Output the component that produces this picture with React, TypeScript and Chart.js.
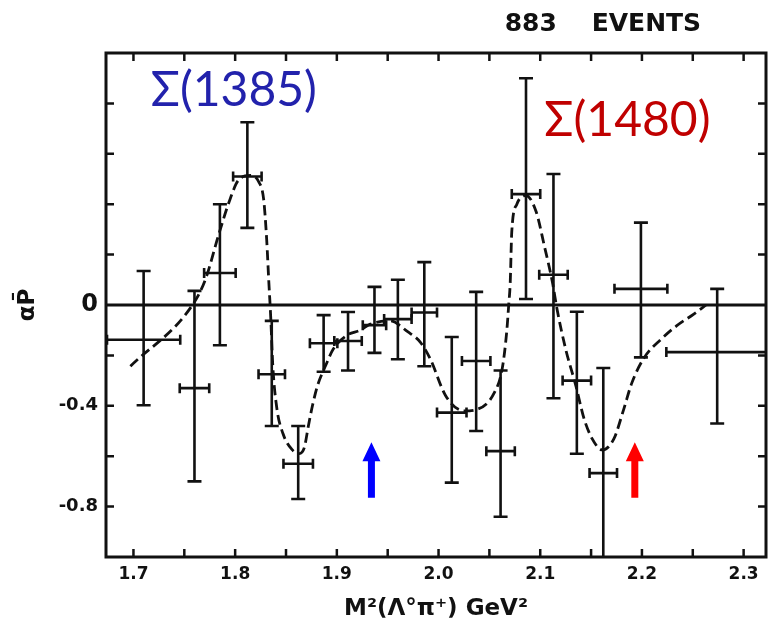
import React, { useEffect, useRef } from 'react';
import { Chart, registerables } from 'chart.js';

Chart.register(...registerables);

// Measured points: M^2(Λπ+) in GeV^2, asymmetry αP̄
const massSq = [1.71, 1.76, 1.785, 1.812, 1.836, 1.862, 1.887, 1.911, 1.937, 1.96, 1.986, 2.013, 2.037, 2.061, 2.086, 2.113, 2.136, 2.162, 2.199, 2.274];
const asym = [-0.138, -0.33, 0.127, 0.51, -0.275, -0.63, -0.152, -0.143, -0.08, -0.056, -0.03, -0.427, -0.222, -0.58, 0.44, 0.12, -0.3, -0.667, 0.064, -0.187];
const asymErrUp = [0.273, 0.386, 0.273, 0.215, 0.212, 0.15, 0.112, 0.115, 0.152, 0.156, 0.2, 0.3, 0.274, 0.32, 0.46, 0.4, 0.273, 0.417, 0.263, 0.251];
const asymErrDown = [0.26, 0.37, 0.287, 0.204, 0.205, 0.14, 0.113, 0.117, 0.11, 0.159, 0.213, 0.278, 0.278, 0.26, 0.416, 0.49, 0.29, 0.45, 0.272, 0.283];
const massErr = [0.036, 0.0145, 0.0155, 0.014, 0.013, 0.0145, 0.0135, 0.0135, 0.0115, 0.0135, 0.0125, 0.0145, 0.014, 0.014, 0.014, 0.014, 0.014, 0.0135, 0.026, 0.05];

// Dashed fit curve
const curveX = [1.697, 1.758, 1.771, 1.7835, 1.795, 1.803, 1.815, 1.823, 1.828, 1.831, 1.833, 1.835, 1.837, 1.841, 1.847, 1.856, 1.863, 1.868, 1.872, 1.876, 1.881, 1.889, 1.8965, 1.91, 1.923, 1.933, 1.952, 1.97, 1.982, 1.992, 2.007, 2.025, 2.038, 2.055, 2.0625, 2.067, 2.069, 2.0705, 2.072, 2.077, 2.086, 2.096, 2.104, 2.112, 2.1165, 2.125, 2.135, 2.143, 2.151, 2.161, 2.1725, 2.182, 2.19, 2.202, 2.219, 2.234, 2.251, 2.263];
const curveY = [-0.243, 0.0, 0.104, 0.275, 0.42, 0.494, 0.514, 0.49, 0.42, 0.26, 0.1, -0.05, -0.24, -0.41, -0.51, -0.574, -0.59, -0.566, -0.48, -0.4, -0.32, -0.24, -0.175, -0.12, -0.1, -0.076, -0.063, -0.107, -0.147, -0.215, -0.36, -0.42, -0.414, -0.347, -0.255, -0.108, 0.0, 0.09, 0.29, 0.4, 0.434, 0.37, 0.235, 0.09, -0.016, -0.175, -0.32, -0.45, -0.53, -0.575, -0.53, -0.415, -0.31, -0.21, -0.135, -0.083, -0.036, 0.0];

// Axes
const xMin = 1.673;
const xMax = 2.322;
const yMin = -1.0;
const yMax = 1.0;
const xLabelValues = [1.7, 1.8, 1.9, 2.0, 2.1, 2.2, 2.3];
const xTickMarks = [1.7, 1.75, 1.8, 1.85, 1.9, 1.95, 2.0, 2.05, 2.1, 2.15, 2.2, 2.25, 2.3];
const yTickMarks = [-0.8, -0.6, -0.4, -0.2, 0.2, 0.4, 0.6, 0.8];
const yLabelValues = [0, -0.4, -0.8];
const yLabelTexts = ['0', '-0.4', '-0.8'];
const xTitle = 'M\u00B2(\u039B\u00B0\u03C0\u207A) GeV\u00B2';
const yTitle = '\u03B1P\u0304';
const headerText = '883    EVENTS';
const headerX = 2.065;

// Annotations
const resonanceLabels = ['\u03A3(1385)', '\u03A3(1480)'];
const resonanceLabelX = [1.717, 2.104];
const resonanceLabelY = [0.79, 0.67];
const resonanceColors = ['#2222AC', '#C00000'];
const arrowX = [1.934, 2.193];
const arrowColors = ['#0000FF', '#FF0000'];
const arrowTipY = -0.545;
const arrowBaseY = -0.765;

const INK = '#111111';

const zeroLinePlugin = {
  id: 'zeroLine',
  beforeDatasetsDraw(chart: any) {
    const { ctx, chartArea: a, scales } = chart;
    const y0 = scales.y.getPixelForValue(0);
    ctx.save();
    ctx.strokeStyle = INK;
    ctx.lineWidth = 3;
    ctx.beginPath();
    ctx.moveTo(a.left, y0);
    ctx.lineTo(a.right, y0);
    ctx.stroke();
    ctx.restore();
  },
};

const errorBarPlugin = {
  id: 'errorBars',
  afterDatasetsDraw(chart: any) {
    const { ctx, chartArea: a, scales } = chart;
    const x = scales.x;
    const y = scales.y;
    const capV = 7;
    const capH = 5;
    ctx.save();
    ctx.beginPath();
    ctx.rect(a.left, a.top, a.right - a.left, a.bottom - a.top);
    ctx.clip();
    ctx.strokeStyle = INK;
    ctx.lineWidth = 2.6;
    massSq.forEach((m, i) => {
      const px = x.getPixelForValue(m);
      const py = y.getPixelForValue(asym[i]);
      const yTop = y.getPixelForValue(asym[i] + asymErrUp[i]);
      const yBot = y.getPixelForValue(asym[i] - asymErrDown[i]);
      const xL = x.getPixelForValue(m - massErr[i]);
      const xR = x.getPixelForValue(m + massErr[i]);
      ctx.beginPath();
      ctx.moveTo(px, yTop);
      ctx.lineTo(px, yBot);
      ctx.moveTo(px - capV, yTop);
      ctx.lineTo(px + capV, yTop);
      ctx.moveTo(px - capV, yBot);
      ctx.lineTo(px + capV, yBot);
      ctx.moveTo(xL, py);
      ctx.lineTo(xR, py);
      ctx.moveTo(xL, py - capH);
      ctx.lineTo(xL, py + capH);
      ctx.moveTo(xR, py - capH);
      ctx.lineTo(xR, py + capH);
      ctx.stroke();
    });
    ctx.restore();
  },
};

const framePlugin = {
  id: 'frame',
  afterDraw(chart: any) {
    const { ctx, chartArea: a, scales } = chart;
    const x = scales.x;
    const y = scales.y;
    const tl = 8;
    ctx.save();
    ctx.strokeStyle = INK;
    ctx.lineWidth = 3;
    ctx.strokeRect(a.left, a.top, a.right - a.left, a.bottom - a.top);
    ctx.lineWidth = 2.5;
    ctx.beginPath();
    xTickMarks.forEach((v) => {
      const px = x.getPixelForValue(v);
      ctx.moveTo(px, a.bottom);
      ctx.lineTo(px, a.bottom - tl);
      ctx.moveTo(px, a.top);
      ctx.lineTo(px, a.top + tl);
    });
    yTickMarks.forEach((v) => {
      const py = y.getPixelForValue(v);
      ctx.moveTo(a.left, py);
      ctx.lineTo(a.left + tl, py);
      ctx.moveTo(a.right, py);
      ctx.lineTo(a.right - tl, py);
    });
    ctx.stroke();
    ctx.restore();
  },
};

const annotationPlugin = {
  id: 'annotations',
  afterDraw(chart: any) {
    const { ctx, chartArea: a, scales } = chart;
    const x = scales.x;
    const y = scales.y;
    ctx.save();
    // header
    ctx.fillStyle = INK;
    ctx.font = 'bold 25px "DejaVu Sans"';
    ctx.textAlign = 'left';
    ctx.textBaseline = 'middle';
    ctx.fillText(headerText, x.getPixelForValue(headerX), a.top - 29);
    // resonance labels
    ctx.textBaseline = 'alphabetic';
    ctx.font = '48px Lato';
    resonanceLabels.forEach((t, i) => {
      ctx.fillStyle = resonanceColors[i];
      ctx.fillText(t, x.getPixelForValue(resonanceLabelX[i]), y.getPixelForValue(resonanceLabelY[i]));
    });
    // arrows
    arrowX.forEach((v, i) => {
      const px = x.getPixelForValue(v);
      const tip = y.getPixelForValue(arrowTipY);
      const base = y.getPixelForValue(arrowBaseY);
      const headLen = 19;
      const headHalf = 9;
      const shaftHalf = 3.5;
      ctx.fillStyle = arrowColors[i];
      ctx.beginPath();
      ctx.moveTo(px, tip);
      ctx.lineTo(px + headHalf, tip + headLen);
      ctx.lineTo(px + shaftHalf, tip + headLen);
      ctx.lineTo(px + shaftHalf, base);
      ctx.lineTo(px - shaftHalf, base);
      ctx.lineTo(px - shaftHalf, tip + headLen);
      ctx.lineTo(px - headHalf, tip + headLen);
      ctx.closePath();
      ctx.fill();
    });
    ctx.restore();
  },
};

function buildConfig(): any {
  const curve = curveX.map((v, i) => ({ x: v, y: curveY[i] }));
  const points = massSq.map((v, i) => ({ x: v, y: asym[i] }));
  return {
    type: 'scatter',
    data: {
      datasets: [
        {
          type: 'line',
          data: curve,
          borderColor: INK,
          borderWidth: 2.8,
          borderDash: [10, 5],
          pointRadius: 0,
          fill: false,
          cubicInterpolationMode: 'monotone',
        },
        {
          type: 'scatter',
          data: points,
          pointRadius: 0,
          pointHoverRadius: 0,
        },
      ],
    },
    options: {
      animation: false,
      responsive: true,
      maintainAspectRatio: false,
      events: [],
      layout: { padding: { top: 53, right: 2, left: 0, bottom: 0 } },
      plugins: {
        legend: { display: false },
        tooltip: { enabled: false },
      },
      scales: {
        x: {
          type: 'linear',
          min: xMin,
          max: xMax,
          grid: { display: false, drawTicks: false },
          border: { display: false },
          afterBuildTicks: (s: any) => {
            s.ticks = xLabelValues.map((v) => ({ value: v }));
          },
          afterFit: (s: any) => {
            s.height = 67;
          },
          ticks: {
            autoSkip: false,
            maxRotation: 0,
            padding: 7,
            color: INK,
            font: { family: '"DejaVu Sans"', size: 17, weight: 'bold' },
            callback: (v: number) => v.toFixed(1),
          },
          title: {
            display: true,
            text: xTitle,
            color: INK,
            font: { family: '"DejaVu Sans"', size: 23, weight: 'bold' },
            padding: { top: 0, bottom: 1 },
          },
        },
        y: {
          type: 'linear',
          min: yMin,
          max: yMax,
          grid: { display: false, drawTicks: false },
          border: { display: false },
          afterBuildTicks: (s: any) => {
            s.ticks = yLabelValues.map((v) => ({ value: v }));
          },
          afterFit: (s: any) => {
            s.width = 106;
          },
          ticks: {
            autoSkip: false,
            padding: 8,
            color: INK,
            font: (c: any) =>
              c.tick && c.tick.value === 0
                ? { family: '"DejaVu Sans"', size: 24, weight: 'bold' }
                : { family: '"DejaVu Sans"', size: 18, weight: 'bold' },
            callback: (v: number) => {
              const idx = yLabelValues.findIndex((u) => Math.abs(u - v) < 1e-9);
              return idx >= 0 ? yLabelTexts[idx] : '';
            },
          },
          title: {
            display: true,
            text: yTitle,
            color: INK,
            font: { family: '"DejaVu Sans"', size: 23, weight: 'bold' },
            padding: { top: 14, bottom: 0 },
          },
        },
      },
    },
    plugins: [zeroLinePlugin, errorBarPlugin, framePlugin, annotationPlugin],
  };
}

export default function App() {
  const ref = useRef<HTMLCanvasElement>(null);
  useEffect(() => {
    if (!ref.current) return;
    const chart = new Chart(ref.current, buildConfig());
    return () => chart.destroy();
  }, []);
  return (
    <div style={{ position: 'fixed', left: 0, top: 0, width: 768, height: 624, background: '#ffffff' }}>
      <canvas ref={ref} />
    </div>
  );
}
